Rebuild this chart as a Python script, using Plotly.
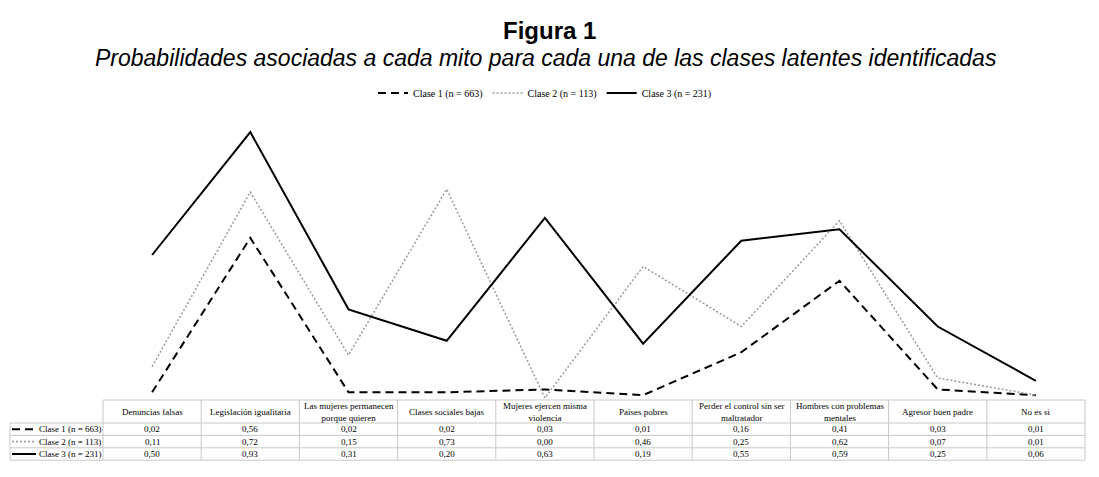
import plotly.graph_objects as go

# page body has an 8px margin, so the figure is smaller and shifted
OFF = 8
W, H = 1099 - 2 * OFF, 477 - 2 * OFF

categorias = ["Denuncias falsas", "Legislación igualitaria", "Las mujeres permanecen<br>porque quieren",
              "Clases sociales bajas", "Mujeres ejercen misma<br>violencia", "Paises pobres",
              "Perder el control sin ser<br>maltratador", "Hombres con problemas<br>mentales",
              "Agresor buen padre", "No es si"]
clases = ["Clase 1 (n = 663)", "Clase 2 (n = 113)", "Clase 3 (n = 231)"]
clase1 = [0.02, 0.56, 0.02, 0.02, 0.03, 0.01, 0.16, 0.41, 0.03, 0.01]
clase2 = [0.11, 0.72, 0.15, 0.73, 0.00, 0.46, 0.25, 0.62, 0.07, 0.01]
clase3 = [0.50, 0.93, 0.31, 0.20, 0.63, 0.19, 0.55, 0.59, 0.25, 0.06]

estilos = [dict(color="black", width=2, dash="8px,5px"),
           dict(color="#999999", width=1.5, dash="2px,2px"),
           dict(color="black", width=2, dash="solid")]
series = [clase1, clase2, clase3]

def px_x(x):
    return (x - OFF) / W

def px_y(y):
    return 1 - (y - OFF) / H

# table geometry (page pixels)
tab_left, col0_right, tab_right = 10, 103, 1085
head_top, head_bot = 400, 423
row_h = 12.4
n = len(categorias)
col_w = (tab_right - col0_right) / n
x_idx = list(range(n))

fig = go.Figure()
for nombre, vals, est in zip(clases, series, estilos):
    fig.add_trace(go.Scatter(x=x_idx, y=vals, mode="lines", name=nombre, line=est))

shapes = []
annotations = []
grid = dict(color="#c8c8c8", width=1)

# horizontal table lines
shapes.append(dict(type="line", xref="paper", yref="paper", x0=px_x(col0_right), x1=px_x(tab_right),
                   y0=px_y(head_top), y1=px_y(head_top), line=grid))
for r in range(4):
    y = head_bot + r * row_h
    shapes.append(dict(type="line", xref="paper", yref="paper", x0=px_x(tab_left), x1=px_x(tab_right),
                       y0=px_y(y), y1=px_y(y), line=grid))
tab_bot = head_bot + 3 * row_h
# vertical table lines
shapes.append(dict(type="line", xref="paper", yref="paper", x0=px_x(tab_left), x1=px_x(tab_left),
                   y0=px_y(head_bot), y1=px_y(tab_bot), line=grid))
for c in range(n + 1):
    x = col0_right + c * col_w
    shapes.append(dict(type="line", xref="paper", yref="paper", x0=px_x(x), x1=px_x(x),
                       y0=px_y(head_top), y1=px_y(tab_bot), line=grid))

serif = "Liberation Serif"
for i, cat in enumerate(categorias):
    xc = col0_right + (i + 0.5) * col_w
    annotations.append(dict(x=px_x(xc), y=px_y((head_top + head_bot) / 2), xref="paper", yref="paper",
                            text=cat, showarrow=False, font=dict(family=serif, size=9, color="black"),
                            xanchor="center", yanchor="middle"))
    for r, vals in enumerate(series):
        yc = head_bot + (r + 0.5) * row_h
        annotations.append(dict(x=px_x(xc), y=px_y(yc), xref="paper", yref="paper",
                                text=f"{vals[i]:.2f}".replace(".", ","), showarrow=False,
                                font=dict(family=serif, size=9, color="black"),
                                xanchor="center", yanchor="middle"))

for r, (nombre, est) in enumerate(zip(clases, estilos)):
    yc = head_bot + (r + 0.5) * row_h
    shapes.append(dict(type="line", xref="paper", yref="paper", x0=px_x(12), x1=px_x(36),
                       y0=px_y(yc), y1=px_y(yc), line=est))
    annotations.append(dict(x=px_x(37), y=px_y(yc), xref="paper", yref="paper", text=nombre,
                            showarrow=False, font=dict(family=serif, size=9, color="black"),
                            xanchor="left", yanchor="middle"))

annotations.append(dict(x=px_x(549), y=px_y(30), xref="paper", yref="paper", text="<b>Figura 1</b>",
                        showarrow=False, xanchor="center", yanchor="middle",
                        font=dict(family="Liberation Sans", size=24, color="black")))
annotations.append(dict(x=px_x(546), y=px_y(58), xref="paper", yref="paper",
                        text="<i>Probabilidades asociadas a cada mito para cada una de las clases latentes identificadas</i>",
                        showarrow=False, xanchor="center", yanchor="middle",
                        font=dict(family="Liberation Sans", size=23, color="black")))

fig.update_layout(
    width=W, height=H,
    margin=dict(l=0, r=0, t=0, b=0),
    paper_bgcolor="white", plot_bgcolor="white",
    xaxis=dict(domain=[px_x(col0_right), px_x(tab_right)], range=[-0.5, n - 0.5],
               showgrid=False, zeroline=False, showticklabels=False, showline=False),
    yaxis=dict(domain=[px_y(398), px_y(112)], range=[0, 1],
               showgrid=False, zeroline=False, showticklabels=False, showline=False),
    legend=dict(orientation="h", x=px_x(545), xanchor="center", y=px_y(93), yanchor="middle",
                font=dict(family=serif, size=10, color="black"), itemwidth=30, bgcolor="rgba(0,0,0,0)"),
    shapes=shapes,
    annotations=annotations,
)

fig.write_html("out.html")
